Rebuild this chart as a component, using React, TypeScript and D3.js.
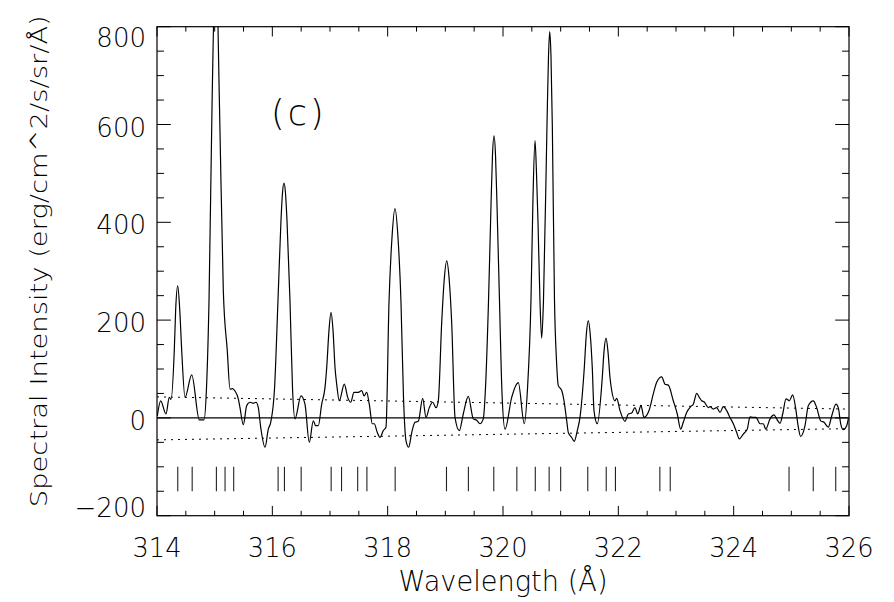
import * as d3 from 'd3'

// spectrum (wavelength in Å, intensity)
const specWave = [
	314.005, 314.064, 314.156, 314.213, 314.243, 314.3, 314.324, 314.359, 314.394, 314.428, 314.486, 314.602,
	314.734, 314.815, 314.858, 314.902, 314.954, 315.02, 315.084, 315.15, 315.219, 315.266,
	315.309, 315.353, 315.41, 315.439, 315.497, 315.555, 315.613, 315.67, 315.717, 315.757,
	315.798, 315.873, 315.93, 315.972, 316.038, 316.098, 316.15, 316.176, 316.202, 316.228, 316.254, 316.306,
	316.35, 316.393, 316.497, 316.566, 316.641, 316.71, 316.752, 316.797, 316.856, 316.913,
	316.943, 316.983, 317.017, 317.052, 317.087, 317.116, 317.161, 317.248, 317.307, 317.359, 317.416, 317.491,
	317.55, 317.59, 317.636, 317.681, 317.734, 317.768, 317.82, 317.867, 317.924, 317.971,
	318.023, 318.075, 318.127, 318.179, 318.231, 318.275, 318.318, 318.365, 318.417, 318.474, 318.531, 318.607,
	318.665, 318.722, 318.781, 318.838, 318.878, 318.937, 318.981, 319.024, 319.067, 319.11, 319.168, 319.242,
	319.311, 319.398, 319.485, 319.544, 319.601, 319.658, 319.696, 319.749, 319.792, 319.818, 319.844,
	319.87, 319.896, 319.939, 319.983, 320.035, 320.151, 320.265, 320.369, 320.425, 320.485, 320.52,
	320.555, 320.581, 320.607, 320.641, 320.671, 320.702, 320.763, 320.789, 320.81, 320.832, 320.855, 320.893, 320.928,
	320.959, 321.018, 321.058, 321.105, 321.133, 321.191, 321.236, 321.288, 321.335, 321.41,
	321.444, 321.479, 321.514, 321.548, 321.578, 321.635, 321.722, 321.751, 321.786, 321.821, 321.855, 321.885, 321.942, 321.971,
	322.029, 322.116, 322.173, 322.232, 322.289, 322.336, 322.393, 322.445, 322.532, 322.606,
	322.665, 322.752, 322.809, 322.867, 322.953, 323.022, 323.081, 323.126, 323.185, 323.255,
	323.3, 323.359, 323.404, 323.446, 323.486, 323.56, 323.59, 323.647, 323.706, 323.763,
	323.82, 323.879, 323.936, 323.994, 324.053, 324.098, 324.167, 324.236, 324.283, 324.33,
	324.387, 324.457, 324.514, 324.556, 324.631, 324.7, 324.746, 324.803, 324.85, 324.908,
	324.965, 325.023, 325.081, 325.121, 325.162, 325.237, 325.294, 325.381, 325.44, 325.509,
	325.566, 325.641, 325.7, 325.774, 325.814, 325.856, 325.901, 325.96, 325.988,
]
const specFlux = [
	4, 35, 8, 42, 38, 139, 222, 270, 222, 139, 42, 88,
	-4, -4, 60, 240, 636, 954, 636, 260, 137, 59,
	60, 55, 39, 21, -14, 25, 32, 30, 32, 21,
	-19, -60, -23, -9, 60, 240, 404, 460, 480, 460, 404, 240,
	60, -2, 45, 28, -50, -6, -16, -16, 28, 62,
	103, 180, 216, 180, 103, 69, 35, 69, 42, 32, 52, 52,
	56, 45, 52, 28, -12, -12, -30, -40, -26, -19,
	236, 369, 428, 369, 236, 40, -47, -60, -30, -9, -7, 40,
	1, 21, 32, 21, 35, 195, 283, 321, 283, 195, 1, -26,
	8, 44, -2, -5, -12, -2, 60, 240, 435, 538, 577,
	538, 435, 240, 50, -23, 42, 72, -12, 60, 240, 450,
	567, 500, 400, 240, 163, 240, 600, 740, 790, 740, 600, 240, 117,
	66, 56, 35, -6, -30, -40, -48, -26, 1, 103,
	169, 199, 169, 103, 15, -12, 83, 135, 163, 135, 83, 56, 35, 40,
	15, -7, 8, 10, 21, 8, 25, 1, 15, 49,
	73, 84, 69, 67, 35, 8, -23, -9, 11, 23,
	28, 50, 42, 35, 33, 21, 23, 18, 21, 11,
	23, 15, 1, -12, -30, -43, -33, -23, 2, 1,
	1, -12, -12, -23, -2, 6, -2, -11, 8, 39,
	35, 47, 15, -19, -38, -16, 25, 35, 21, -6,
	-9, -19, 4, 28, 21, -12, -24, -16, -2,
]

// identified line positions (Å)
const lineMarks = [
	314.36, 314.61, 315.03, 315.18, 315.33, 316.1, 316.21, 316.5, 317.02, 317.2,
	317.48, 317.64, 318.13, 319.02, 319.4, 319.84, 320.24, 320.56, 320.8, 321.0,
	321.47, 321.79, 321.95, 322.72, 322.9, 324.96, 325.38, 325.77,
]

// dotted error band ends
const errWave = [314, 326]
const errUpper = [43, 18]
const errLower = [-45, -22]

const xTickLabels = ['314', '316', '318', '320', '322', '324', '326']
const yTickLabels = ['\u2212200', '0', '200', '400', '600', '800']

const font = "'DejaVu Sans', sans-serif"

const App = () => {
	const width = 894
	const height = 602
	const left = 157
	const right = 849
	const top = 26.7
	const bottom = 515.7

	const x = d3.scaleLinear().domain([314, 326]).range([left, right])
	const y = d3.scaleLinear().domain([-200, 800]).range([bottom, top])

	const spec = d3
		.line<number>()
		.x((d, i) => x(specWave[i]))
		.y((d) => y(d))
		.curve(d3.curveMonotoneX)(specFlux)

	const errLine = (vals: number[]) =>
		d3
			.line<number>()
			.x((d, i) => x(errWave[i]))
			.y((d) => y(d))(vals)

	const xMajor = x.ticks(6)
	const xMinor = x.ticks(24).filter((t) => !xMajor.includes(t))
	const yMajor = y.ticks(5)
	const yMinor = y.ticks(20).filter((t) => !yMajor.includes(t))

	// tick lengths as fraction of plot size (like IDL)
	const xLen = (bottom - top) * 0.02
	const yLen = (right - left) * 0.02

	return (
		<svg
			width={width}
			height={height}
			style={{ position: 'absolute', left: 0, top: 0, background: '#fff' }}
		>
			<defs>
				<clipPath id="frame">
					<rect x={left} y={top} width={right - left} height={bottom - top} />
				</clipPath>
			</defs>

			{/* zero line */}
			<line x1={left} x2={right} y1={y(0)} y2={y(0)} stroke="#000" strokeWidth={1.2} />

			{/* dotted band */}
			<path d={errLine(errUpper)} fill="none" stroke="#000" strokeWidth={1} strokeDasharray="2 5" />
			<path d={errLine(errLower)} fill="none" stroke="#000" strokeWidth={1} strokeDasharray="2 5" />

			{/* spectrum */}
			<g clipPath="url(#frame)">
				<path d={spec} fill="none" stroke="#000" strokeWidth={1.2} strokeLinejoin="round" />
			</g>

			{/* line identifications */}
			{lineMarks.map((w, i) => (
				<line key={'m' + i} x1={x(w)} x2={x(w)} y1={y(-100)} y2={y(-150)} stroke="#222" strokeWidth={1.1} />
			))}

			{/* frame */}
			<rect
				x={left}
				y={top}
				width={right - left}
				height={bottom - top}
				fill="none"
				stroke="#000"
				strokeWidth={1.2}
			/>

			{/* x ticks, bottom and top */}
			{xMajor.concat(xMinor).map((t, i) => {
				const len = xMajor.includes(t) ? xLen : xLen / 2
				return (
					<g key={'xt' + i} stroke="#000" strokeWidth={1}>
						<line x1={x(t)} x2={x(t)} y1={bottom} y2={bottom - len} />
						<line x1={x(t)} x2={x(t)} y1={top} y2={top + len} />
					</g>
				)
			})}

			{/* y ticks, left and right */}
			{yMajor.concat(yMinor).map((t, i) => {
				const len = yMajor.includes(t) ? yLen : yLen / 2
				return (
					<g key={'yt' + i} stroke="#000" strokeWidth={1}>
						<line x1={left} x2={left + len} y1={y(t)} y2={y(t)} />
						<line x1={right} x2={right - len} y1={y(t)} y2={y(t)} />
					</g>
				)
			})}

			{/* x tick labels */}
			{xMajor.map((t, i) => (
				<text
					key={'xl' + i}
					x={x(t)}
					y={557}
					textAnchor="middle"
					fontFamily={font}
					fontWeight={200}
					fontSize={26}
					textLength={49}
					lengthAdjust="spacingAndGlyphs"
					fill="#000"
				>
					{xTickLabels[i]}
				</text>
			))}

			{/* y tick labels, end ones kept inside the frame */}
			{yMajor.map((t, i) => (
				<text
					key={'yl' + i}
					x={146}
					y={Math.min(Math.max(y(t) + 12, top + 20), bottom + 1)}
					textAnchor="end"
					fontFamily={font}
					fontWeight={200}
					fontSize={26}
					fill="#000"
				>
					{yTickLabels[i]}
				</text>
			))}

			{/* axis titles */}
			<text
				x={(left + right) / 2}
				y={591}
				textAnchor="middle"
				fontFamily={font}
				fontWeight={200}
				fontSize={28}
				textLength={209}
				lengthAdjust="spacingAndGlyphs"
				fill="#000"
			>
				Wavelength (Å)
			</text>
			<text
				transform={`translate(47, ${(bottom + top) / 2 - 10}) rotate(-90)`}
				textAnchor="middle"
				fontFamily={font}
				fontWeight={200}
				fontSize={23}
				textLength={492}
				lengthAdjust="spacingAndGlyphs"
				fill="#000"
			>
				Spectral Intensity (erg/cm^2/s/sr/Å)
			</text>

			{/* panel label */}
			<text
				x={x(316.46)}
				y={125}
				textAnchor="middle"
				fontFamily={font}
				fontWeight={200}
				fontSize={35}
				letterSpacing={3}
				fill="#000"
			>
				(c)
			</text>
		</svg>
	)
}

export default App
